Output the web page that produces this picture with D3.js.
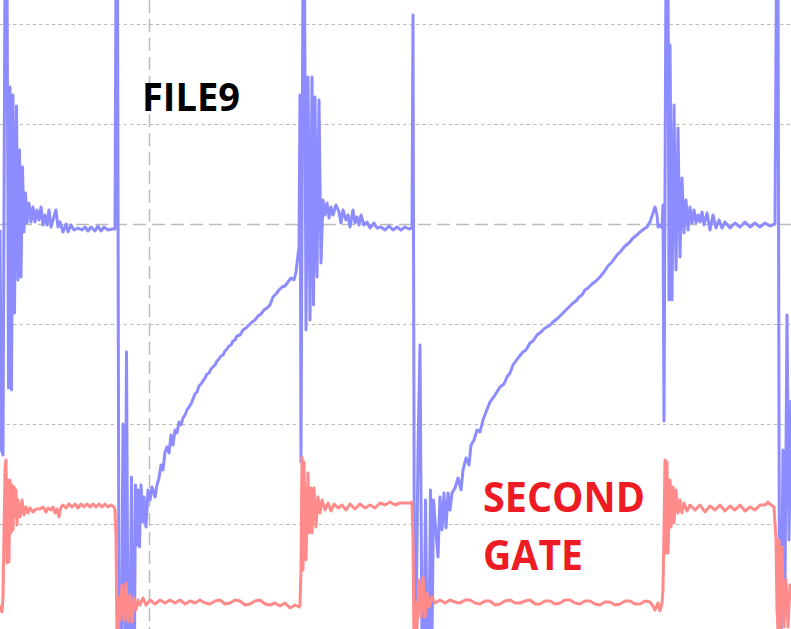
<!DOCTYPE html>
<html>
<head>
<meta charset="utf-8">
<script src="https://cdn.jsdelivr.net/npm/d3@7"></script>
<style>
  html, body { margin: 0; padding: 0; background: #fff; }
  svg { display: block; }
</style>
</head>
<body>
<svg id="chart" width="791" height="629"></svg>
<script>
// ---- data (time in samples, level in counts: 100 counts per grid division) ----
const blue = [
  [0,-6],[1.5,-226],[3,-231],[5,260],[7,260],[8.5,-164],[10,137],[11.5,-166],[13,129],[14.5,-89],
  [16.5,118],[18,-56],[19.5,74],[21,-53],[22.5,57],[24,-8],[25.5,31],[27,1],[29,21],[31,2],
  [33,17],[35,2],[37,14],[39,4],[41,17],[43,-1],[45,9],[47,-1],[49,14],[51,-3],
  [53,4],[56,14],[58,-3],[60,2],[63,-8],[66,0],[68,-8],[71,-1],[74,-6],[78,-4],
  [82,-6],[85,-3],[88,-7],[91,-3],[95,-7],[98,-2],[101,-7],[104,-3],[108,-6],[112,-5],
  [115,-5],[116,260],[117.5,260],[119,-420],[121.5,-420],[123,-200],[125,-420],[126.5,-128],[128,-420],[130,-420],
  [131.5,-253],[133,-420],[134.5,-420],[135.5,-261],[137,-321],[138,-266],[139.5,-323],[141,-261],[143,-298],[144,-273],
  [146,-303],[148,-266],[150,-276],[152,-263],[155,-273],[157,-261],[159,-254],[161,-241],[163,-246],[165,-228],
  [167,-223],[169,-229],[171,-211],[173,-221],[175,-206],[177,-209],[179,-198],[181,-201],[183,-194],[185,-191],
  [187,-186],[189,-183],[191,-180],[193,-175],[195,-170],[197,-168],[199,-162],[201,-160],[203,-157],[205,-154],
  [207,-150],[209,-149],[211,-145],[213,-143],[215,-141],[217,-137],[219,-135],[221,-132],[223,-131],[225,-127],
  [227,-125],[229,-122],[231,-121],[233,-117],[235,-116],[237,-112],[240,-111],[243,-106],[246,-104],[249,-101],
  [252,-98],[255,-96],[258,-92],[261,-90],[264,-86],[267,-84],[270,-81],[273,-73],[276,-70],[279,-66],
  [282,-63],[285,-62],[288,-58],[291,-54],[294,-56],[296,-48],[298,-31],[299,-23],[300,129],[301,-238],
  [303,260],[304.5,260],[306,-106],[308,147],[310,-96],[312,147],[313.5,-81],[315,127],[317,-53],[319,124],
  [321,-39],[323,24],[325,9],[327,21],[329,6],[331,17],[333,9],[336,19],[339,12],[341,1],
  [343,14],[346,4],[348,9],[350,-3],[353,14],[355,1],[357,7],[359,-1],[361,9],[364,-1],
  [367,2],[370,-4],[374,1],[377,-4],[381,-3],[385,-6],[389,-2],[393,-6],[397,-3],[401,-6],
  [405,-3],[409,-5],[412,-4],[413,209],[414.5,-420],[416,-420],[418,-226],[420,-121],[422,-420],[424,-420],
  [425.5,-276],[427,-420],[429,-420],[430.5,-266],[432,-420],[433.5,-276],[436,-309],[438,-333],[440,-273],[442,-306],
  [444,-269],[446,-304],[448,-269],[450,-286],[452,-269],[455,-264],[458,-254],[461,-266],[463,-246],[466,-234],
  [469,-241],[471,-221],[474,-216],[477,-206],[480,-208],[483,-196],[486,-188],[490,-178],[495,-171],[500,-163],
  [504,-160],[507,-153],[510,-149],[513,-141],[518,-134],[523,-128],[526,-126],[530,-119],[533,-117],[537,-111],
  [541,-108],[545,-104],[549,-102],[553,-98],[558,-94],[563,-89],[568,-84],[573,-79],[576,-77],[579,-73],
  [582,-71],[585,-66],[588,-64],[592,-60],[596,-57],[600,-53],[604,-48],[608,-42],[612,-38],[617,-31],
  [621,-27],[625,-22],[629,-19],[633,-14],[637,-11],[640,-8],[644,-5],[647,-3],[650,2],[653,11],
  [655,17],[657,9],[658,-3],[660,-1],[662,-4],[663,19],[664,-197],[666,260],[668,260],[669,-76],
  [670,179],[672,-76],[674,119],[676,-46],[678,96],[680,-33],[682,46],[684,-9],[686,24],[688,-6],
  [690,17],[692,1],[694,14],[696,1],[698,9],[700,2],[702,12],[704,-1],[707,11],[710,-6],
  [713,9],[716,-4],[719,4],[722,-4],[725,2],[730,-4],[735,1],[740,-3],[745,2],[750,-3],
  [755,1],[760,-3],[765,1],[770,-2],[775,0],[776.5,260],[778,260],[779.5,-420],[781,-420],[783,-226],
  [785,-363],[787,-91],[789,-316],[791,-176]
];

const red = [
  [0,-381],[2,-388],[3,-373],[4,-309],[5,-246],[6,-236],[7,-339],[8,-256],[9,-338],[10,-256],
  [11,-309],[12,-261],[13,-306],[14,-263],[15,-293],[16,-266],[17,-301],[18,-276],[20,-293],[22,-276],
  [24,-291],[26,-283],[28,-289],[30,-284],[33,-288],[36,-285],[40,-285],[43,-283],[46,-288],[48,-284],
  [51,-286],[53,-283],[55,-289],[57,-285],[59,-293],[61,-283],[63,-281],[66,-284],[69,-280],[72,-283],
  [75,-280],[78,-284],[81,-280],[84,-283],[87,-280],[90,-283],[93,-280],[96,-283],[99,-280],[102,-283],
  [105,-280],[108,-283],[111,-281],[114,-283],[115,-286],[116,-313],[117,-420],[118,-420],[119,-373],[120,-396],
  [122,-361],[124,-396],[126,-359],[128,-398],[130,-371],[132,-398],[134,-374],[136,-386],[138,-376],[140,-381],
  [143,-374],[146,-381],[150,-376],[155,-380],[160,-376],[165,-379],[170,-376],[175,-379],[180,-376],[185,-380],
  [190,-377],[195,-379],[200,-376],[205,-379],[210,-380],[215,-377],[220,-376],[225,-380],[230,-379],[235,-376],
  [240,-377],[245,-381],[250,-380],[255,-377],[260,-376],[265,-380],[270,-381],[275,-379],[280,-382],[285,-379],
  [290,-384],[295,-381],[299,-383],[300,-381],[301,-346],[302,-233],[303,-346],[304,-238],[306,-336],[308,-249],
  [309,-309],[311,-264],[312,-309],[314,-264],[316,-303],[318,-273],[320,-289],[322,-276],[325,-286],[328,-279],
  [331,-287],[334,-280],[338,-284],[342,-281],[346,-286],[350,-280],[355,-285],[360,-280],[365,-284],[370,-281],
  [375,-284],[380,-279],[385,-281],[390,-278],[395,-281],[400,-279],[405,-279],[410,-279],[412,-278],[413,-316],
  [414,-420],[416,-379],[417,-404],[419,-356],[421,-393],[423,-353],[425,-393],[427,-369],[429,-383],[432,-373],
  [435,-379],[440,-376],[445,-379],[450,-376],[455,-378],[460,-379],[465,-376],[470,-376],[475,-379],[480,-380],
  [485,-377],[490,-377],[495,-381],[500,-380],[505,-377],[510,-376],[515,-379],[520,-379],[525,-377],[530,-376],
  [535,-380],[540,-380],[545,-377],[550,-377],[555,-380],[560,-379],[565,-376],[570,-376],[575,-379],[580,-380],
  [585,-377],[590,-377],[595,-380],[600,-381],[605,-378],[610,-378],[615,-381],[620,-380],[625,-377],[630,-377],
  [635,-380],[640,-380],[645,-377],[650,-378],[653,-382],[655,-386],[658,-379],[660,-387],[662,-379],[663,-366],
  [664,-306],[665,-236],[666,-329],[667,-238],[668,-329],[670,-256],[671,-303],[673,-263],[674,-299],[676,-266],
  [678,-289],[680,-276],[682,-289],[684,-279],[687,-287],[690,-281],[695,-286],[700,-281],[705,-288],[710,-282],
  [715,-286],[720,-281],[725,-287],[730,-282],[735,-286],[740,-281],[745,-287],[750,-283],[755,-286],[760,-281],
  [765,-281],[768,-278],[771,-281],[774,-283],[776,-316],[777,-386],[778,-406],[779,-316],[780,-404],[782,-323],
  [784,-403],[786,-356],[788,-403],[790,-361],[791,-376]
];

const gridLevels = [200, 100, 0, -100, -200, -300];   // horizontal grid (counts)
const centerLevel = 0;                                 // long-dash reference line
const markerTimes = [150];                             // vertical cursor (samples)
const titleText = "FILE9";
const noteLines = ["SECOND", "GATE"];

// ---- layout ----
const W = 791, H = 629;
const svg = d3.select("#chart");
const x = d3.scaleLinear().domain([0, 791]).range([0, W]);
const y = d3.scaleLinear().domain([224, -405]).range([0, H]);

svg.append("defs").append("clipPath").attr("id", "plotClip")
  .append("rect").attr("x", 0).attr("y", 0).attr("width", W).attr("height", H);

// grid
const g = svg.append("g");
g.selectAll("line.h").data(gridLevels).join("line")
  .attr("class", "h")
  .attr("x1", 0).attr("x2", W)
  .attr("y1", d => Math.round(y(d)) + 0.5).attr("y2", d => Math.round(y(d)) + 0.5)
  .attr("stroke", "#bbbbbb")
  .attr("stroke-width", d => d === centerLevel ? 1.5 : 1.2)
  .attr("stroke-dasharray", d => d === centerLevel ? "13,6" : "3.5,3");

g.selectAll("line.v").data(markerTimes).join("line")
  .attr("class", "v")
  .attr("x1", d => Math.round(x(d)) - 0.5).attr("x2", d => Math.round(x(d)) - 0.5)
  .attr("y1", 0).attr("y2", H)
  .attr("stroke", "#bbbbbb")
  .attr("stroke-width", 1.5)
  .attr("stroke-dasharray", "13,6");

// traces
const line = d3.line().x(d => x(d[0])).y(d => y(d[1]));
const traces = svg.append("g").attr("clip-path", "url(#plotClip)");
traces.append("path").datum(blue)
  .attr("d", line).attr("fill", "none")
  .attr("stroke", "#8c8cff").attr("stroke-width", 3)
  .attr("stroke-linejoin", "round");
traces.append("path").datum(red)
  .attr("d", line).attr("fill", "none")
  .attr("stroke", "#ff8a8a").attr("stroke-width", 3)
  .attr("stroke-linejoin", "round");

// annotations
svg.append("text")
  .attr("x", x(142)).attr("y", y(113))
  .attr("font-family", "'Open Sans', Lato, sans-serif")
  .attr("font-weight", 700).attr("font-size", 39)
  .attr("textLength", 98).attr("lengthAdjust", "spacingAndGlyphs")
  .attr("fill", "#000").text(titleText);

const noteY = [-288, -346];
svg.selectAll("text.note").data(noteLines).join("text")
  .attr("class", "note")
  .attr("x", x(483)).attr("y", (d, i) => y(noteY[i]))
  .attr("font-family", "'Open Sans', Lato, sans-serif")
  .attr("font-weight", 700).attr("font-size", 41)
  .attr("textLength", (d, i) => i === 0 ? 162 : 100)
  .attr("lengthAdjust", "spacingAndGlyphs")
  .attr("fill", "#ed1c24").text(d => d);
</script>
</body>
</html>
